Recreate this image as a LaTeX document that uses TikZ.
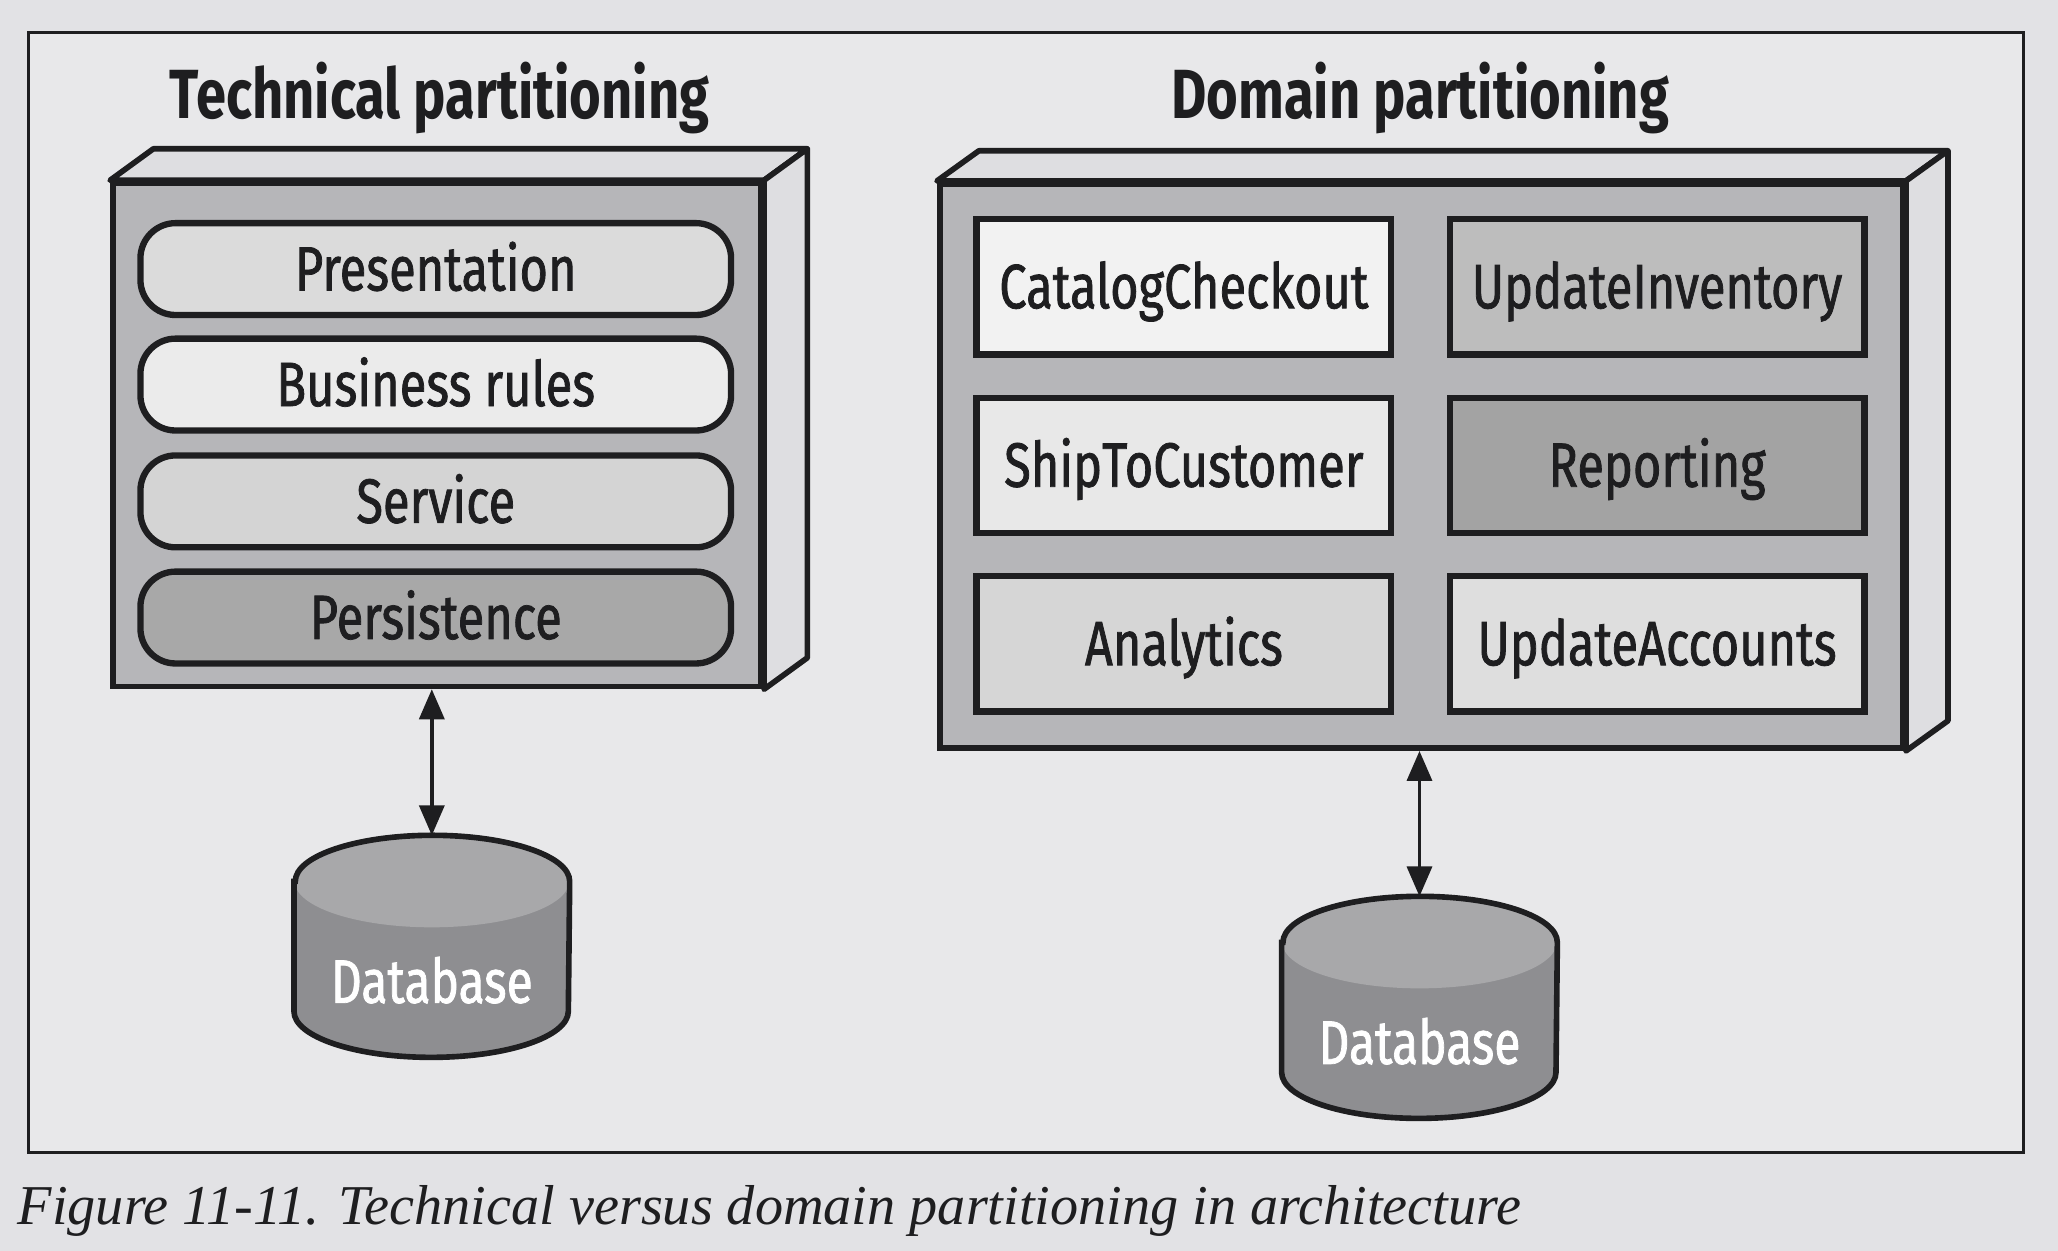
\documentclass[tikz,border=0pt]{standalone}
\usepackage{fontspec}
\setmainfont{Liberation Serif}
\newfontfamily\labelfont{Fira Sans}[FakeStretch=0.78, FakeBold=1.2]
\newfontfamily\headfont{Fira Sans}[FakeStretch=0.78]
\usetikzlibrary{arrows.meta,calc}

\newcommand{\ux}{0.013125cm}
\definecolor{paper}{RGB}{226,226,229}
\definecolor{ink}{RGB}{30,30,32}
\definecolor{faceback}{RGB}{222,222,225}
\definecolor{facefront}{RGB}{182,182,185}
\definecolor{dbtop}{RGB}{168,168,170}
\definecolor{dbbody}{RGB}{142,142,145}

\tikzset{
    frontface/.style={draw=ink, line width=1.6pt, fill=facefront, inner sep=0pt},
    sideface/.style={draw=ink, line width=1.6pt, fill=faceback, line join=round},
    layer/.style={draw=ink, line width=1.8pt, rounded corners=10pt, inner sep=0pt,
        minimum width=450*\ux, minimum height=70*\ux,
        font=\labelfont\fontsize{17.8}{20}\selectfont, text=ink,
        text height=12.2pt, text depth=0pt},
    module/.style={draw=ink, line width=1.8pt, inner sep=0pt,
        minimum width=316*\ux, minimum height=103*\ux,
        font=\labelfont\fontsize{17.8}{20}\selectfont, text=ink,
        text height=12.2pt, text depth=0pt},
    heading/.style={anchor=base, font=\headfont\bfseries\fontsize{19.8}{22}\selectfont, text=ink},
    dbshape/.style={inner sep=0pt, minimum width=209*\ux, minimum height=168*\ux},
    dbtext/.style={font=\labelfont\fontsize{17.5}{20}\selectfont, text=white,
        text height=12pt, text depth=0pt},
    dbarrow/.style={{Triangle[length=0.3cm,width=0.25cm]}-{Triangle[length=0.3cm,width=0.25cm]},
        draw=ink, line width=1pt}
}

% cylinder round an empty node
\newcommand{\dbpath}[1]{($(#1.north west)+(0,35)$) -- ($(#1.south west)+(0,-35)$)
    arc[start angle=180, end angle=360, x radius=1.3716cm, y radius=0.46cm]
    -- ($(#1.north east)+(0,35)$)
    arc[start angle=0, end angle=180, x radius=1.3716cm, y radius=0.46cm] -- cycle}
\newcommand{\drawdb}[1]{%
    \fill[dbbody] \dbpath{#1};
    \fill[dbtop] ($(#1.north)+(0,35)$) ellipse[x radius=1.3716cm, y radius=0.46cm];
    \draw[ink, line width=1.6pt] \dbpath{#1};}

\begin{document}
\begin{tikzpicture}[x=\ux, y=-\ux]
            \useasboundingbox[fill=paper] (0,0) rectangle (1568,953);
            \draw[ink, line width=0.9pt, fill=paper!80!white] (22,25) rectangle (1542,878);

            % technical partitioning
            \node[heading] (techtitle) at (335,90) {Technical partitioning};
            \node[frontface, minimum width=494*\ux, minimum height=383.5*\ux] (tech) at (333,331.25) {};
            \draw[sideface] (tech.north west) -- ++(33,-24) -- ($(tech.north east)+(33,-24)$) -- (tech.north east) -- cycle;
            \draw[sideface] (tech.north east) -- ++(33,-24) -- ($(tech.south east)+(33,-24)$) -- (tech.south east) -- cycle;
            \node[layer, fill=black!14] (pres) at (332,205) {Presentation};
            \node[layer, fill=black!8] (rules) at (332,293) {Business rules};
            \node[layer, fill=black!17] (serv) at (332,382) {Service};
            \node[layer, fill=black!34] (pers) at (332,470.5) {Persistence};

            \node[dbshape] (dbL) at (329,721) {};
            \drawdb{dbL}
            \node[dbtext] at ($(dbL.center)+(0,27)$) {Database};
            \draw[dbarrow] (dbL.north |- tech.south) -- (dbL.north);

            % domain partitioning
            \node[heading] (domtitle) at (1082,90) {Domain partitioning};
            \node[frontface, minimum width=734*\ux, minimum height=430*\ux] (domain) at (1083,355) {};
            \draw[sideface] (domain.north west) -- ++(32,-23) -- ($(domain.north east)+(32,-23)$) -- (domain.north east) -- cycle;
            \draw[sideface] (domain.north east) -- ++(32,-23) -- ($(domain.south east)+(32,-23)$) -- (domain.south east) -- cycle;
            \node[module, fill=black!5] (catalog) at (902,218.5) {CatalogCheckout};
            \node[module, fill=black!26] (inventory) at (1262.5,218.5) {UpdateInventory};
            \node[module, fill=black!9] (ship) at (902,354.5) {ShipToCustomer};
            \node[module, fill=black!36] (report) at (1262.5,354.5) {Reporting};
            \node[module, fill=black!16] (analytics) at (902,490.5) {Analytics};
            \node[module, fill=black!13] (accounts) at (1262.5,490.5) {UpdateAccounts};

            \node[dbshape] (dbR) at (1081.5,767.5) {};
            \drawdb{dbR}
            \node[dbtext] at ($(dbR.center)+(0,27)$) {Database};
            \draw[dbarrow] (dbR.north |- domain.south) -- (dbR.north);

            \node[anchor=base west, inner sep=0pt, font=\itshape\fontsize{16}{19}\selectfont, text=ink] (caption) at (13,933)
                {Figure 11-11. Technical versus domain partitioning in architecture};
\end{tikzpicture}
\end{document}
